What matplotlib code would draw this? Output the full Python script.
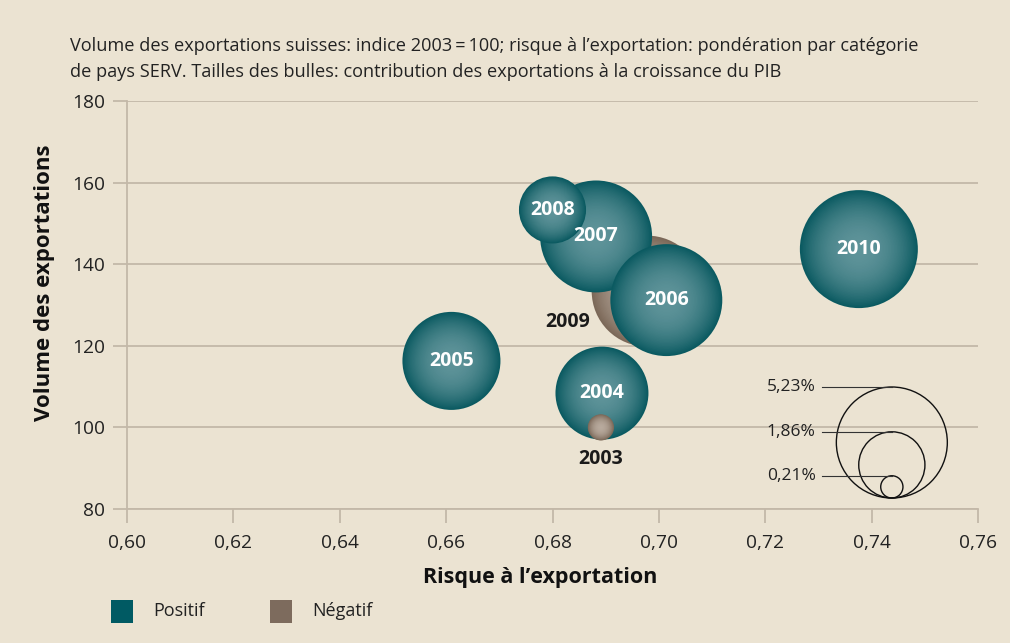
import numpy as np
import matplotlib
matplotlib.use("Agg")
import matplotlib.pyplot as plt
from matplotlib.transforms import ScaledTranslation

plt.rcParams['font.family'] = ['Open Sans', 'DejaVu Sans']

# data
years = ['2003', '2004', '2005', '2006', '2007', '2008', '2009', '2010']
risk = [0.6891, 0.6893, 0.6610, 0.7014, 0.6882, 0.6800, 0.6978, 0.7376]
volume = [100.0, 108.4, 116.3, 131.2, 146.8, 153.3, 133.4, 143.7]
contrib = [-0.29, 3.67, 4.08, 5.32, 5.32, 1.91, -5.23, 5.91]
legend_sizes = [5.23, 1.86, 0.21]
legend_labels = ['5,23%', '1,86%', '0,21%']

bg = '#ebe3d2'
grid_c = '#c3b8a8'
teal_edge, teal_mid = '#0b5a61', '#5e9399'
brown_edge, brown_mid = '#7b6858', '#b8aa9d'
k = 1221.0  # points^2 per percentage point

fig = plt.figure(figsize=(10.1, 6.43), dpi=100, facecolor=bg)
ax = fig.add_axes([127/1010, 1-509/643, (978-127)/1010, (509-101)/643])
ax.set_facecolor(bg)
ax.set_xlim(0.60, 0.76)
ax.set_ylim(80, 180)
ax.set_xticks(np.arange(0.60, 0.761, 0.02))
ax.set_yticks(np.arange(80, 181, 20))
ax.set_xticklabels([f'{v:.2f}'.replace('.', ',') for v in np.arange(0.60, 0.761, 0.02)])
ax.grid(axis='y', color=grid_c, lw=1.3, zorder=0)
ax.set_axisbelow(True)
for s in ['top', 'right']:
    ax.spines[s].set_visible(False)
for s in ['left', 'bottom']:
    ax.spines[s].set_color(grid_c)
    ax.spines[s].set_linewidth(1.3)
ax.tick_params(axis='both', color=grid_c, width=1.3, length=10, labelsize=13.8,
               labelcolor='#222222')
ax.tick_params(axis='y', pad=6)
ax.tick_params(axis='x', pad=8)


def mix(c1, c2, t):
    a = np.array(matplotlib.colors.to_rgb(c1))
    b = np.array(matplotlib.colors.to_rgb(c2))
    return tuple(a + (b - a) * t)


order = ['2009', '2005', '2010', '2004', '2007', '2006', '2008', '2003']
n = 40
for z, yr in enumerate(order):
    i = years.index(yr)
    s = k * abs(contrib[i])
    edge, mid = (teal_edge, teal_mid) if contrib[i] > 0 else (brown_edge, brown_mid)
    for j in range(n):
        f = 1 - j / n
        t = 1 - f ** 2.2
        ax.scatter(risk[i], volume[i], s=s * f * f, color=mix(edge, mid, t),
                   edgecolors='none', zorder=3 + z * 0.01 + j * 0.0001)

for i, yr in enumerate(years):
    if yr == '2009':
        ax.text(risk[i], volume[i], yr, ha='center', va='center', fontsize=14,
                fontweight='bold', color='#1a1a1a', zorder=5,
                transform=ax.transData + ScaledTranslation(-80/100, -31/100, fig.dpi_scale_trans))
    elif yr == '2003':
        ax.text(risk[i], volume[i], yr, ha='center', va='center', fontsize=14,
                fontweight='bold', color='#1a1a1a', zorder=5,
                transform=ax.transData + ScaledTranslation(0, -32/100, fig.dpi_scale_trans))
    else:
        ax.text(risk[i], volume[i], yr, ha='center', va='center', fontsize=14,
                fontweight='bold', color='white', zorder=5)

# size legend, circles sitting on a common bottom point
lx, ly = 0.7438, 82.7
for v, lab in zip(legend_sizes, legend_labels):
    s = k * v
    d = np.sqrt(s)
    tr = ax.transData + ScaledTranslation(0, d / 2 / 72, fig.dpi_scale_trans)
    ax.scatter(lx, ly, s=s, facecolors='none', edgecolors='#111111', linewidths=1.0,
               transform=tr, zorder=6)
    tr_top = ax.transData + ScaledTranslation(0, d / 72, fig.dpi_scale_trans)
    ax.plot([lx - 0.0131, lx], [ly, ly], color='#333333', lw=0.8, transform=tr_top, zorder=6)
    ax.text(lx - 0.0143, ly, lab, ha='right', va='center', fontsize=12.5, color='#222222',
            transform=tr_top, zorder=6)

fig.text(70/1010, 1-46/643, "Volume des exportations suisses: indice 2003\u2009=\u2009100; risque à l\u2019exportation: pondération par catégorie",
         fontsize=13.1, color='#222222', va='center', ha='left')
fig.text(70/1010, 1-72/643, "de pays SERV. Tailles des bulles: contribution des exportations à la croissance du PIB",
         fontsize=13.1, color='#222222', va='center', ha='left')
fig.text(45/1010, 1-283/643, 'Volume des exportations', rotation=90, fontsize=16,
         fontweight='bold', color='#111111', ha='center', va='center')
fig.text(540/1010, 1-577/643, 'Risque à l\u2019exportation', fontsize=15.5,
         fontweight='bold', color='#111111', ha='center', va='center')

# colour legend
for x0, col, lab in [(111, '#005a63', 'Positif'), (270, '#7d6b5d', 'Négatif')]:
    fig.patches.append(plt.Rectangle((x0/1010, 1-623/643), 22/1010, 23/643,
                                     transform=fig.transFigure, facecolor=col,
                                     edgecolor='none'))
    fig.text((x0 + 42)/1010, 1-611/643, lab, fontsize=13, color='#222222',
             ha='left', va='center')

fig.savefig('out.png', dpi=100, facecolor=bg)
